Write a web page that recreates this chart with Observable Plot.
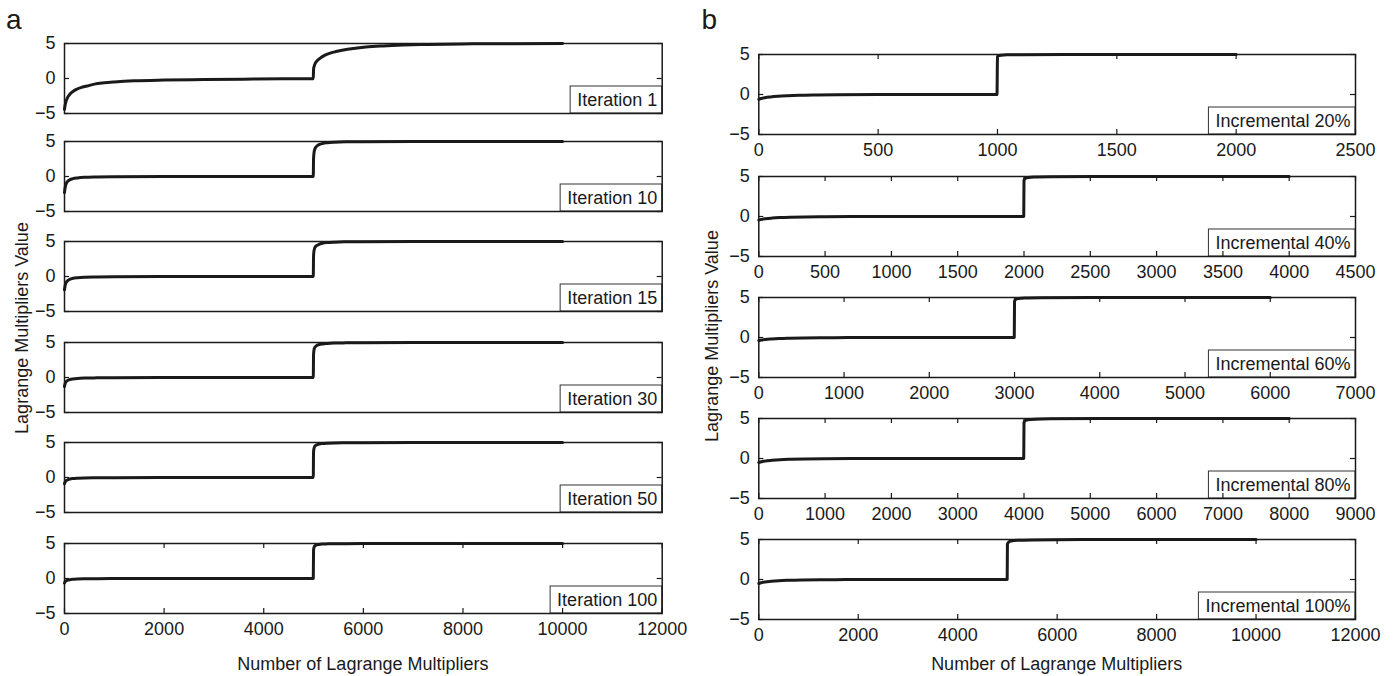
<!DOCTYPE html>
<html>
<head>
<meta charset="utf-8">
<script src="https://cdn.jsdelivr.net/npm/d3@7"></script>
<script src="https://cdn.jsdelivr.net/npm/@observablehq/plot@0.6"></script>
<style>
  html, body { margin: 0; padding: 0; background: #fff; }
  #fig { position: relative; width: 1395px; height: 676px; overflow: hidden; background: #fff;
         font-family: "Liberation Sans", Arial, Helvetica, sans-serif; color: #1a1a1a; }
  .abs { position: absolute; white-space: nowrap; }
  .t18 { font-size: 18px; line-height: 18px; }
  .letter { font-size: 28px; line-height: 28px; }
  .rot { transform: translate(-50%, -50%) rotate(-90deg); }
  .ctr { transform: translateX(-50%); }
</style>
</head>
<body>
<div id="fig"></div>
<script>
// ---------------- data ----------------
const yTicks = [-5, 0, 5];

// panel a: iterations (x = index of Lagrange multiplier, 0..10000)
const iterLabels = ["Iteration 1", "Iteration 10", "Iteration 15", "Iteration 30", "Iteration 50", "Iteration 100"];
const iter1X = [0, 10, 25, 50, 80, 120, 170, 240, 330, 450, 600, 800, 1000, 1400, 2000, 2800, 3600, 4400, 4995, 5000, 5015, 5040, 5080, 5140, 5220, 5320, 5450, 5600, 5800, 6050, 6400, 6800, 7300, 8000, 9000, 10000];
const iter1Y = [-4.4, -3.9, -3.4, -2.9, -2.5, -2.15, -1.85, -1.55, -1.3, -1.08, -0.8, -0.62, -0.5, -0.33, -0.22, -0.15, -0.09, -0.05, -0.02, 1.3, 1.8, 2.25, 2.6, 2.95, 3.3, 3.6, 3.85, 4.08, 4.3, 4.5, 4.66, 4.78, 4.87, 4.94, 4.98, 5.0];
const iterX = [0, 8, 20, 40, 70, 110, 170, 260, 400, 650, 1000, 2000, 3500, 4995, 5000, 5008, 5025, 5060, 5110, 5180, 5280, 5420, 5650, 6000, 7000, 8500, 10000];
const iter10Y = [-2.3, -1.8, -1.35, -0.95, -0.65, -0.45, -0.3, -0.2, -0.12, -0.07, -0.04, -0.01, 0, 0, 2.5, 3.3, 3.9, 4.3, 4.55, 4.72, 4.83, 4.9, 4.95, 4.97, 4.99, 5, 5];
const iter15Y = [-1.9, -1.5, -1.1, -0.8, -0.55, -0.38, -0.26, -0.17, -0.1, -0.06, -0.03, -0.01, 0, 0, 2.8, 3.6, 4.1, 4.4, 4.6, 4.75, 4.85, 4.91, 4.95, 4.97, 4.99, 5, 5];
const iter30Y = [-1.3, -1.0, -0.75, -0.55, -0.4, -0.28, -0.2, -0.13, -0.08, -0.05, -0.03, -0.01, 0, 0, 3.2, 3.9, 4.3, 4.55, 4.7, 4.8, 4.87, 4.92, 4.95, 4.97, 4.99, 5, 5];
const iter50Y = [-0.9, -0.72, -0.55, -0.42, -0.31, -0.22, -0.15, -0.1, -0.06, -0.04, -0.02, -0.01, 0, 0, 3.6, 4.1, 4.45, 4.65, 4.77, 4.85, 4.9, 4.94, 4.96, 4.98, 4.99, 5, 5];
const iter100Y = [-0.65, -0.52, -0.4, -0.3, -0.22, -0.16, -0.11, -0.07, -0.04, -0.02, -0.01, 0, 0, 0, 4.0, 4.4, 4.65, 4.8, 4.87, 4.92, 4.95, 4.97, 4.98, 4.99, 5, 5, 5];
const iterXDomain = [0, 12000];
const iterXTicks = [0, 2000, 4000, 6000, 8000, 10000, 12000];

// panel b: incremental
const incLabels = ["Incremental 20%", "Incremental 40%", "Incremental 60%", "Incremental 80%", "Incremental 100%"];
const inc20X = [0, 10, 25, 50, 80, 120, 170, 240, 330, 500, 998, 1000, 1004, 1015, 1040, 1100, 1300, 1600, 2000];
const inc20Y = [-0.6, -0.5, -0.4, -0.3, -0.22, -0.15, -0.09, -0.05, -0.02, 0, 0, 4.7, 4.85, 4.92, 4.96, 4.98, 5, 5, 5];
const inc40X = [0, 20, 50, 100, 160, 240, 350, 500, 700, 1000, 1998, 2000, 2008, 2030, 2080, 2200, 2600, 3200, 4000];
const inc40Y = [-0.45, -0.36, -0.28, -0.2, -0.14, -0.09, -0.05, -0.03, -0.01, 0, 0, 4.5, 4.75, 4.88, 4.94, 4.97, 4.99, 5, 5];
const inc60X = [0, 30, 75, 150, 240, 360, 520, 750, 1050, 1500, 2997, 3000, 3012, 3045, 3120, 3300, 3900, 4800, 6000];
const inc60Y = [-0.4, -0.32, -0.25, -0.18, -0.12, -0.08, -0.05, -0.03, -0.01, 0, 0, 4.5, 4.75, 4.88, 4.94, 4.97, 4.99, 5, 5];
const inc80X = [0, 40, 100, 200, 320, 480, 700, 1000, 1400, 2000, 3996, 4000, 4016, 4060, 4160, 4400, 5200, 6400, 8000];
const inc80Y = [-0.5, -0.4, -0.3, -0.22, -0.15, -0.1, -0.06, -0.03, -0.01, 0, 0, 4.5, 4.72, 4.85, 4.92, 4.96, 4.99, 5, 5];
const inc100X = [0, 50, 125, 250, 400, 600, 875, 1250, 1750, 2500, 4995, 5000, 5020, 5075, 5200, 5500, 6500, 8000, 10000];
const inc100Y = [-0.5, -0.4, -0.3, -0.22, -0.15, -0.1, -0.06, -0.03, -0.01, 0, 0, 4.4, 4.65, 4.8, 4.9, 4.95, 4.99, 5, 5];
const incXDomains = [[0, 2500], [0, 4500], [0, 7000], [0, 9000], [0, 12000]];
const inc20Ticks = [0, 500, 1000, 1500, 2000, 2500];
const inc40Ticks = [0, 500, 1000, 1500, 2000, 2500, 3000, 3500, 4000, 4500];
const inc60Ticks = [0, 1000, 2000, 3000, 4000, 5000, 6000, 7000];
const inc80Ticks = [0, 1000, 2000, 3000, 4000, 5000, 6000, 7000, 8000, 9000];
const inc100Ticks = [0, 2000, 4000, 6000, 8000, 10000, 12000];

const xTitle = "Number of Lagrange Multipliers";
const yTitle = "Lagrange Multipliers Value";

// ---------------- drawing ----------------
const INK = "#1a1a1a";
const FONT = '"Liberation Sans", Arial, Helvetica, sans-serif';
const fig = document.getElementById("fig");
const fmt = d3.format("d");
const SVGNS = "http://www.w3.org/2000/svg";

function panel(cfg) {
  const mt = 12, mb = 34;
  const h = cfg.frameH + mt + mb;
  const plotW = cfg.frameRight - cfg.frameLeft;
  const data = cfg.xs.map((x, i) => ({x, y: cfg.ys[i]}));
  const xt = cfg.xTicks;
  const marks = [
    Plot.line(data, {x: "x", y: "y", stroke: INK, strokeWidth: 3, curve: "monotone-x", strokeLinejoin: "round"}),
    Plot.text([cfg.label], {text: d => d, frameAnchor: "bottom-right", textAnchor: "end", lineAnchor: "middle",
      dx: -5, dy: -13.5, fill: INK, fontSize: 18, fontFamily: FONT}),
    Plot.frame({stroke: INK, strokeWidth: 1.5}),
    Plot.ruleY(yTicks, {y: d => d, insetRight: plotW - 5, stroke: INK, strokeWidth: 1.2}),
    Plot.ruleY(yTicks, {y: d => d, insetLeft: plotW - 5, stroke: INK, strokeWidth: 1.2})
  ];
  if (xt.length) {
    marks.push(Plot.ruleX(xt, {x: d => d, insetTop: cfg.frameH - 5, stroke: INK, strokeWidth: 1.2}));
    marks.push(Plot.ruleX(xt, {x: d => d, insetBottom: cfg.frameH - 5, stroke: INK, strokeWidth: 1.2}));
  }
  const svg = Plot.plot({
    width: cfg.svgWidth, height: h,
    marginLeft: cfg.frameLeft - cfg.svgLeft,
    marginRight: cfg.svgLeft + cfg.svgWidth - cfg.frameRight,
    marginTop: mt, marginBottom: mb,
    style: {background: "transparent", overflow: "visible", fontFamily: FONT, fontSize: "18px", color: INK},
    x: {domain: cfg.xDomain, ticks: xt.length ? xt : [], tickFormat: fmt, tickSize: 0, tickPadding: 9,
        label: null, axis: xt.length ? "bottom" : null},
    y: {domain: [-5, 5], ticks: yTicks, tickFormat: fmt, tickSize: 0, tickPadding: 9, label: null},
    marks
  });
  const holder = document.createElement("div");
  holder.className = "abs";
  holder.style.left = cfg.svgLeft + "px";
  holder.style.top = (cfg.frameTop - mt) + "px";
  holder.style.width = cfg.svgWidth + "px";
  holder.style.height = h + "px";
  holder.appendChild(svg);
  fig.appendChild(holder);
  // white box behind the legend text, placed in the svg root (no transforms)
  const texts = Array.from(svg.querySelectorAll("text")).filter(t => t.textContent === cfg.label);
  if (texts.length) {
    const t = texts[0];
    let top = t;
    while (top.parentNode && top.parentNode !== svg) top = top.parentNode;
    const sr = svg.getBoundingClientRect();
    const tr = t.getBoundingClientRect();
    let x0 = tr.left - sr.left - 7;
    const right = cfg.frameRight - cfg.svgLeft;
    if (!isFinite(x0) || tr.width === 0) x0 = right - (cfg.label.length * 9.2 + 12);
    const bottom = mt + cfg.frameH;
    const rect = document.createElementNS(SVGNS, "rect");
    rect.setAttribute("x", x0);
    rect.setAttribute("y", bottom - 27);
    rect.setAttribute("width", right - x0);
    rect.setAttribute("height", 27);
    rect.setAttribute("fill", "#fff");
    rect.setAttribute("stroke", "#333");
    rect.setAttribute("stroke-width", 1);
    svg.insertBefore(rect, top);
  }
}

// panel a
const aTops = [43, 140.5, 241, 341.5, 442, 543];
const aYs = [iter1Y, iter10Y, iter15Y, iter30Y, iter50Y, iter100Y];
const aXs = [iter1X, iterX, iterX, iterX, iterX, iterX];
aTops.forEach((top, i) => panel({
  svgLeft: 0, svgWidth: 700, frameLeft: 64, frameRight: 661.7, frameTop: top, frameH: 70,
  xDomain: iterXDomain, xTicks: i === 5 ? iterXTicks : [], xs: aXs[i], ys: aYs[i], label: iterLabels[i]
}));

// panel b
const bTops = [54.3, 175.7, 297, 418, 539];
const bXs = [inc20X, inc40X, inc60X, inc80X, inc100X];
const bYs = [inc20Y, inc40Y, inc60Y, inc80Y, inc100Y];
const bTicks = [inc20Ticks, inc40Ticks, inc60Ticks, inc80Ticks, inc100Ticks];
bTops.forEach((top, i) => panel({
  svgLeft: 690, svgWidth: 700, frameLeft: 758.3, frameRight: 1355, frameTop: top, frameH: 80,
  xDomain: incXDomains[i], xTicks: bTicks[i], xs: bXs[i], ys: bYs[i], label: incLabels[i]
}));

// titles
function addText(txt, cls, style) {
  const d = document.createElement("div");
  d.className = "abs " + cls;
  Object.assign(d.style, style);
  d.textContent = txt;
  fig.appendChild(d);
}
addText("a", "letter", {left: "6px", top: "6.3px"});
addText("b", "letter", {left: "701.5px", top: "6.3px"});
addText(xTitle, "t18 ctr", {left: "362.9px", top: "654.8px"});
addText(xTitle, "t18 ctr", {left: "1056.7px", top: "654.8px"});
addText(yTitle, "t18 rot", {left: "21.8px", top: "328px"});
addText(yTitle, "t18 rot", {left: "711.8px", top: "336px"});
</script>
</body>
</html>
